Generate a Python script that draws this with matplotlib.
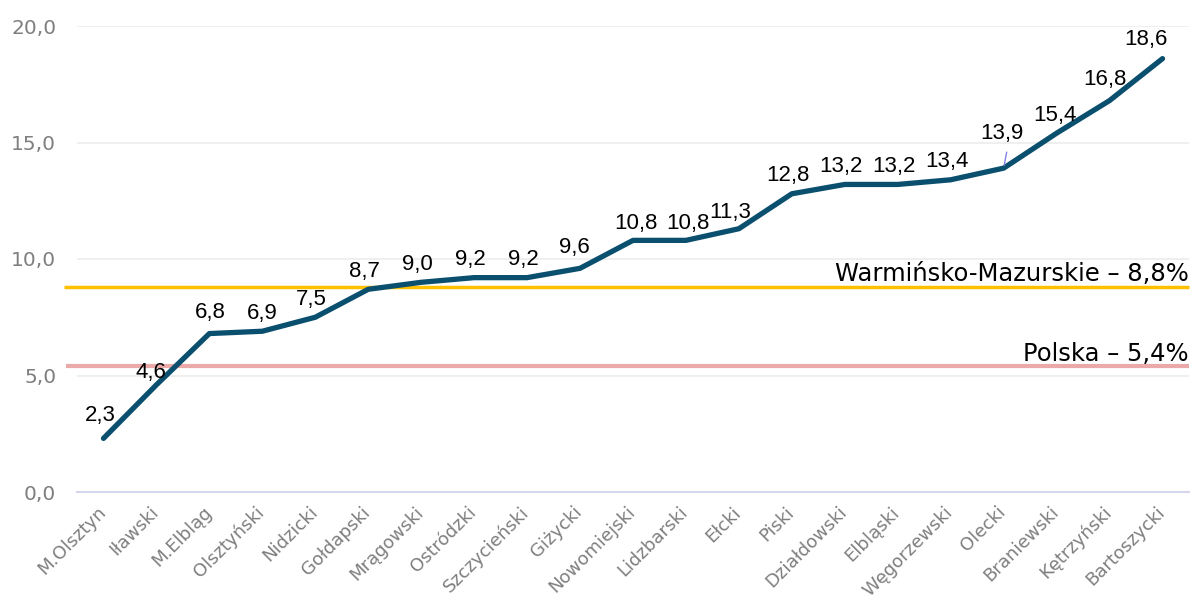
import matplotlib
matplotlib.use("Agg")
import matplotlib.pyplot as plt
from matplotlib.ticker import FuncFormatter
import matplotlib.transforms as mtransforms

categories = ["M.Olsztyn", "Iławski", "M.Elbląg", "Olsztyński", "Nidzicki", "Gołdapski",
              "Mrągowski", "Ostródzki", "Szczycieński", "Giżycki", "Nowomiejski", "Lidzbarski",
              "Ełcki", "Piski", "Działdowski", "Elbląski", "Węgorzewski", "Olecki",
              "Braniewski", "Kętrzyński", "Bartoszycki"]
values = [2.3, 4.6, 6.8, 6.9, 7.5, 8.7, 9.0, 9.2, 9.2, 9.6, 10.8, 10.8,
          11.3, 12.8, 13.2, 13.2, 13.4, 13.9, 15.4, 16.8, 18.6]
region_value = 8.8
poland_value = 5.4
region_label = "Warmińsko-Mazurskie – 8,8%"
poland_label = "Polska – 5,4%"
yticks = [0, 5, 10, 15, 20]

W, H, DPI = 1194, 601, 100
fig = plt.figure(figsize=(W / DPI, H / DPI), dpi=DPI)
ax = fig.add_axes([77 / W, 1 - 492 / H, (1189 - 77) / W, (492 - 26) / H])

font = "DejaVu Sans"
x = list(range(len(values)))

ax.set_xlim(-0.5, len(values) - 0.5)
ax.set_ylim(0, 20)
ax.set_yticks(yticks)
ax.yaxis.set_major_formatter(FuncFormatter(lambda v, p: f"{v:.1f}".replace(".", ",")))
ax.grid(axis="y", color="#EEEEEE", linewidth=1.3)
ax.set_axisbelow(True)
for s in ["top", "right", "left"]:
    ax.spines[s].set_visible(False)
ax.spines["bottom"].set_color("#D6D6EE")
ax.spines["bottom"].set_linewidth(1.5)
ax.tick_params(axis="both", length=0, colors="#7F7F7F")
ax.tick_params(axis="y", pad=15, labelsize=14.5)
ax.tick_params(axis="x", pad=8, labelsize=13)
ax.set_xticks(x)
ax.set_xticklabels(categories, rotation=45, ha="right", rotation_mode="anchor",
                   color="#7F7F7F", family=font)
shift = mtransforms.ScaledTranslation(-7 / DPI, 0 / DPI, fig.dpi_scale_trans)
for lab in ax.get_xticklabels():
    lab.set_transform(lab.get_transform() + shift)
for lab in ax.get_yticklabels():
    lab.set_family(font)

# reference lines extending slightly left of the plot area
trans = mtransforms.blended_transform_factory(ax.transAxes, ax.transData)
ax.plot([-0.0117, 1.0], [region_value, region_value], transform=trans, color="#FFC000",
        linewidth=2.5, clip_on=False, zorder=2, solid_capstyle="butt")
ax.plot([-0.0099, 1.0], [poland_value, poland_value], transform=trans, color="#EBA9A9",
        linewidth=3.0, clip_on=False, zorder=2, solid_capstyle="butt")
ax.annotate(region_label, (1.0, region_value), xycoords=trans, xytext=(0, 6),
            textcoords="offset pixels", ha="right", va="baseline",
            fontsize=17.5, color="black", family=font)
ax.annotate(poland_label, (1.0, poland_value), xycoords=trans, xytext=(0, 5),
            textcoords="offset pixels", ha="right", va="baseline",
            fontsize=17.5, color="black", family=font)

ax.plot(x, values, color="#0B4F6F", linewidth=3.8, solid_capstyle="round",
        solid_joinstyle="round", zorder=3)

# data labels (pixel offsets)
default_off = (-4, 18)
special_off = {0: (-3, 23), 1: (-5, 12), 2: (1, 21), 3: (0, 18), 9: (-6, 21),
               10: (3, 17), 11: (2, 17), 12: (-9, 16),
               17: (-2, 35), 18: (-2, 18), 19: (-5, 21), 20: (-17, 19)}
for i, v in enumerate(values):
    dx, dy = special_off.get(i, default_off)
    ax.annotate(f"{v:.1f}".replace(".", ","), (i, v), xytext=(dx, dy),
                textcoords="offset pixels", ha="center", va="center",
                fontsize=16, color="black", family="Liberation Sans", zorder=4)
# leader line for the displaced label
i17 = 17
ax.annotate("", (i17, values[i17]), xytext=(3, 16), textcoords="offset pixels",
            arrowprops=dict(arrowstyle="-", color="#8080E0", lw=1.0, shrinkA=0, shrinkB=2))

fig.savefig("out.png", dpi=DPI)
